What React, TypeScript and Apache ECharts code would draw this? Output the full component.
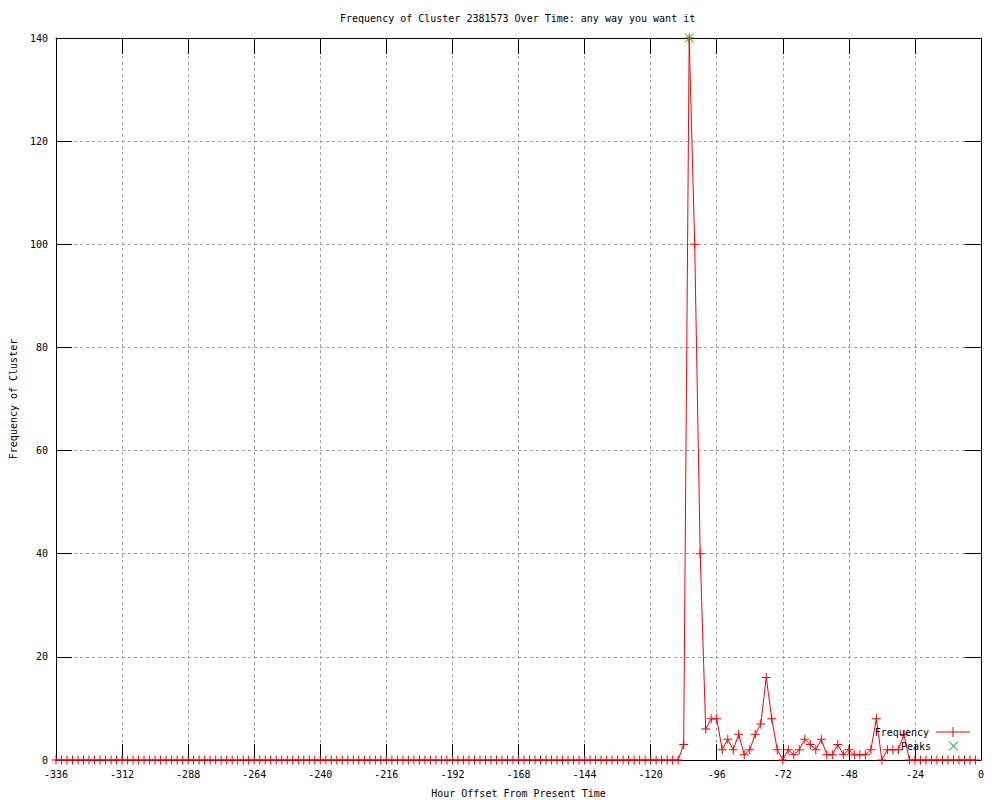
import React, { useEffect, useRef } from "react";
import * as echarts from "echarts";

const titleText = "Frequency of Cluster 2381573 Over Time: any way you want it";
const xAxisName = "Hour Offset From Present Time";
const yAxisName = "Frequency of Cluster";

const hours = [
  -336, -334, -332, -330, -328, -326, -324, -322, -320, -318, -316, -314,
  -312, -310, -308, -306, -304, -302, -300, -298, -296, -294, -292, -290,
  -288, -286, -284, -282, -280, -278, -276, -274, -272, -270, -268, -266,
  -264, -262, -260, -258, -256, -254, -252, -250, -248, -246, -244, -242,
  -240, -238, -236, -234, -232, -230, -228, -226, -224, -222, -220, -218,
  -216, -214, -212, -210, -208, -206, -204, -202, -200, -198, -196, -194,
  -192, -190, -188, -186, -184, -182, -180, -178, -176, -174, -172, -170,
  -168, -166, -164, -162, -160, -158, -156, -154, -152, -150, -148, -146,
  -144, -142, -140, -138, -136, -134, -132, -130, -128, -126, -124, -122,
  -120, -118, -116, -114, -112, -110, -108, -106, -104, -102, -100, -98,
  -96, -94, -92, -90, -88, -86, -84, -82, -80, -78, -76, -74,
  -72, -70, -68, -66, -64, -62, -60, -58, -56, -54, -52, -50,
  -48, -46, -44, -42, -40, -38, -36, -34, -32, -30, -28, -26,
  -24, -22, -20, -18, -16, -14, -12, -10, -8, -6, -4, -2,
];

const frequency = [
  0, 0, 0, 0, 0, 0, 0, 0, 0, 0, 0, 0,
  0, 0, 0, 0, 0, 0, 0, 0, 0, 0, 0, 0,
  0, 0, 0, 0, 0, 0, 0, 0, 0, 0, 0, 0,
  0, 0, 0, 0, 0, 0, 0, 0, 0, 0, 0, 0,
  0, 0, 0, 0, 0, 0, 0, 0, 0, 0, 0, 0,
  0, 0, 0, 0, 0, 0, 0, 0, 0, 0, 0, 0,
  0, 0, 0, 0, 0, 0, 0, 0, 0, 0, 0, 0,
  0, 0, 0, 0, 0, 0, 0, 0, 0, 0, 0, 0,
  0, 0, 0, 0, 0, 0, 0, 0, 0, 0, 0, 0,
  0, 0, 0, 0, 0, 0, 3, 140, 100, 40, 6, 8,
  8, 2, 4, 2, 5, 1, 2, 5, 7, 16, 8, 2,
  0, 2, 1, 2, 4, 3, 2, 4, 1, 1, 3, 1,
  2, 1, 1, 1, 2, 8, 0, 2, 2, 2, 5, 0,
  0, 0, 0, 0, 0, 0, 0, 0, 0, 0, 0, 0,
];

const peakHours = [-106];
const peakValues = [140];

const FONT = "DejaVu Sans Mono";
const PLUS = "path://M4,0h1v4h4v1h-4v4h-1v-4h-4v-1h4z";
const CROSS =
  "path://M0,0L0.8,0L4.5,3.7L8.2,0L9,0L9,0.8L5.3,4.5L9,8.2L9,9L8.2,9L4.5,5.3L0.8,9L0,9L0,8.2L3.7,4.5L0,0.8Z";
const LEGEND_LINE = "path://M0,4.5h34v1h-34zM16.5,0h1v10h-1z";

export default function App() {
  const ref = useRef<HTMLDivElement>(null);
  useEffect(() => {
    if (!ref.current) return;
    const chart = echarts.init(ref.current, undefined, { renderer: "svg" });
    const freqData = hours.map((h, i) => [h, frequency[i]]);
    const peakData = peakHours.map((h, i) => [h, peakValues[i]]);
    const gridLine = {
      show: true,
      lineStyle: { color: "#a0a0a0", type: [3, 3], width: 1 },
    };
    const axisLineStyle = { show: true, onZero: false, lineStyle: { color: "#000", width: 1 } };
    const tick = { show: true, inside: true, length: 16, lineStyle: { color: "#000" } };
    chart.setOption({
      animation: false,
      backgroundColor: "#fff",
      textStyle: { fontFamily: FONT },
      title: {
        text: titleText,
        left: 340,
        top: 13,
        padding: 0,
        textStyle: { fontFamily: FONT, fontSize: 10, fontWeight: "normal", color: "#000" },
      },
      grid: {
        left: 56,
        right: 19,
        top: 38,
        bottom: 40,
        containLabel: false,
        outerBoundsMode: "none",
      },
      legend: [
        {
          data: [{ name: "Frequency", icon: LEGEND_LINE }],
          orient: "vertical",
          align: "right",
          right: 30,
          top: 727,
          padding: 0,
          itemWidth: 34,
          itemHeight: 10,
          selectedMode: false,
          textStyle: { fontFamily: FONT, fontSize: 10, color: "#000", padding: [0, 2, 0, 0] },
        },
        {
          data: [{ name: "Peaks", icon: CROSS }],
          orient: "vertical",
          align: "right",
          right: 42,
          top: 741,
          padding: 0,
          itemWidth: 9,
          itemHeight: 9,
          selectedMode: false,
          textStyle: { fontFamily: FONT, fontSize: 10, color: "#000", padding: [0, 13, 0, 0] },
        },
      ],
      xAxis: [
        {
          type: "value",
          min: -336,
          max: 0,
          interval: 24,
          position: "bottom",
          name: xAxisName,
          nameLocation: "middle",
          nameGap: 28,
          nameTextStyle: { fontFamily: FONT, fontSize: 10, color: "#000" },
          axisLine: axisLineStyle,
          axisTick: tick,
          axisLabel: { fontFamily: FONT, fontSize: 10, color: "#000", margin: 9 },
          splitLine: gridLine,
        },
        {
          type: "value",
          min: -336,
          max: 0,
          interval: 24,
          position: "top",
          axisLine: axisLineStyle,
          axisTick: tick,
          axisLabel: { show: false },
          splitLine: { show: false },
        },
      ],
      yAxis: [
        {
          type: "value",
          min: 0,
          max: 140,
          interval: 20,
          position: "left",
          name: yAxisName,
          nameLocation: "middle",
          nameGap: 38,
          nameTextStyle: { fontFamily: FONT, fontSize: 10, color: "#000" },
          axisLine: axisLineStyle,
          axisTick: tick,
          axisLabel: { fontFamily: FONT, fontSize: 10, color: "#000", margin: 8 },
          splitLine: gridLine,
        },
        {
          type: "value",
          min: 0,
          max: 140,
          interval: 20,
          position: "right",
          axisLine: axisLineStyle,
          axisTick: tick,
          axisLabel: { show: false },
          splitLine: { show: false },
        },
      ],
      series: [
        {
          name: "Frequency",
          type: "line",
          xAxisIndex: 0,
          yAxisIndex: 0,
          data: freqData,
          symbol: PLUS,
          symbolSize: 9,
          showSymbol: true,
          showAllSymbol: true,
          color: "#ff0000",
          itemStyle: { color: "#ff0000" },
          lineStyle: { color: "#ff0000", width: 1 },
          emphasis: { disabled: true },
          z: 3,
        },
        {
          name: "Peaks",
          type: "scatter",
          xAxisIndex: 0,
          yAxisIndex: 0,
          data: peakData,
          symbol: CROSS,
          symbolSize: 9,
          color: "#00c000",
          itemStyle: { color: "#00c000" },
          emphasis: { disabled: true },
          z: 4,
        },
      ],
    });
    return () => chart.dispose();
  }, []);
  return <div ref={ref} style={{ width: 1000, height: 800, position: "absolute", left: 0, top: 0 }} />;
}
